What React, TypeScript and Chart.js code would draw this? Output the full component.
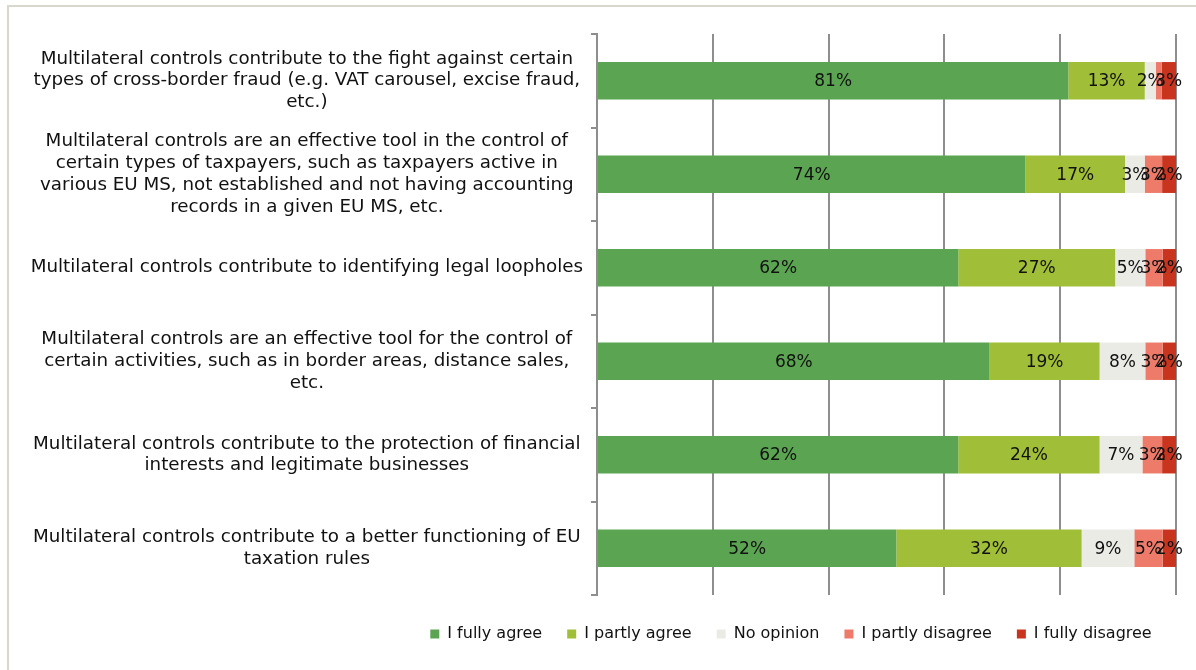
import React, { useEffect, useRef } from "react";
import { Chart, registerables } from "chart.js";

Chart.register(...registerables);

const categories: string[][] = [
  ["Multilateral controls contribute to the fight against certain", "types of cross-border fraud (e.g. VAT carousel, excise fraud,", "etc.)"],
  ["Multilateral controls are an effective tool in the control of", "certain types of taxpayers, such as taxpayers active in", "various EU MS, not established and not having accounting", "records in a given EU MS, etc."],
  ["Multilateral controls contribute to identifying legal loopholes"],
  ["Multilateral controls are an effective tool for the control of", "certain activities, such as in border areas, distance sales,", "etc."],
  ["Multilateral controls contribute to the protection of financial", "interests and legitimate businesses"],
  ["Multilateral controls contribute to a better functioning of EU", "taxation rules"],
];

const seriesNames = ["I fully agree", "I partly agree", "No opinion", "I partly disagree", "I fully disagree"];
const fullyAgree = [81.4, 74.0, 62.4, 67.8, 62.4, 51.7];
const partlyAgree = [13.2, 17.2, 27.1, 19.0, 24.4, 32.0];
const noOpinion = [1.9, 3.4, 5.2, 7.9, 7.4, 9.1];
const partlyDisagree = [1.0, 3.0, 3.0, 3.0, 3.4, 4.9];
const fullyDisagree = [2.5, 2.4, 2.3, 2.3, 2.4, 2.3];
const seriesColors = ["#5BA552", "#A0BE37", "#EBEBE6", "#EE7B6A", "#C8341E"];
const xTicks = [0, 20, 40, 60, 80, 100];

const FONT = "'DejaVu Sans', Verdana, sans-serif";

const labelPlugin = {
  id: "segLabels",
  afterDatasetsDraw(chart: any) {
    const ctx = chart.ctx;
    ctx.save();
    ctx.font = `17px ${FONT}`;
    ctx.fillStyle = "#111";
    ctx.textAlign = "center";
    ctx.textBaseline = "middle";
    chart.data.datasets.forEach((ds: any, di: number) => {
      const meta = chart.getDatasetMeta(di);
      meta.data.forEach((bar: any, i: number) => {
        const v = ds.data[i];
        if (v < 1.5) return;
        const cx = (bar.x + bar.base) / 2;
        ctx.fillText(Math.round(v) + "%", cx, bar.y + 1);
      });
    });
    ctx.restore();
  },
};

const legendShift = {
  id: "legendShift",
  beforeDraw(chart: any) {
    if (chart.legend) {
      chart.legend.left = 386;
      chart.legend.right = 1196;
    }
  },
};

export default function App() {
  const ref = useRef<HTMLCanvasElement>(null);
  useEffect(() => {
    if (!ref.current) return;
    const all = [fullyAgree, partlyAgree, noOpinion, partlyDisagree, fullyDisagree];
    const chart = new Chart(ref.current, {
      type: "bar",
      data: {
        labels: categories,
        datasets: all.map((d, i) => ({
          label: seriesNames[i],
          data: d,
          backgroundColor: seriesColors[i],
          borderWidth: 0,
          categoryPercentage: 1,
          barPercentage: 0.4,
        })),
      },
      options: {
        indexAxis: "y",
        animation: false,
        responsive: false,
        layout: { padding: { left: 0, right: 20, top: 34, bottom: 18 } },
        plugins: {
          tooltip: { enabled: false },
          legend: {
            position: "bottom",
            align: "center",
            labels: {
              boxWidth: 9,
              boxHeight: 9,
              padding: 25,
              color: "#111",
              font: { family: FONT, size: 16 },
            },
          },
        },
        scales: {
          x: {
            stacked: true,
            min: 0,
            max: 100,
            afterBuildTicks: (s: any) => {
              s.ticks = xTicks.map((v) => ({ value: v }));
            },
            afterFit: (s: any) => {
              s.height = 6;
            },
            ticks: { display: false },
            grid: { color: "#8e8e8e", lineWidth: 2, drawTicks: false },
            border: { display: false },
          },
          y: {
            stacked: true,
            afterFit: (s: any) => {
              s.width = 597;
            },
            ticks: {
              autoSkip: false,
              crossAlign: "center",
              padding: 8,
              color: "#111",
              font: { family: FONT, size: 18.3, lineHeight: 1.2 },
            },
            grid: { drawOnChartArea: false, drawTicks: true, tickLength: 6, color: "#8e8e8e", lineWidth: 2, offset: true },
            border: { display: true, color: "#8e8e8e", width: 2 },
          },
        },
      },
      plugins: [labelPlugin, legendShift],
    });
    return () => chart.destroy();
  }, []);

  return (
    <div style={{ position: "fixed", left: 0, top: 0, width: 1196, height: 670, background: "#fff", overflow: "hidden" }}>
      <div style={{ position: "absolute", left: 7, top: 5, width: 1300, height: 800, borderTop: "2px solid #d8d8cc", borderLeft: "2px solid #d8d8cc" }} />
      <canvas ref={ref} width={1196} height={670} style={{ position: "absolute", left: 0, top: 0 }} />
    </div>
  );
}
